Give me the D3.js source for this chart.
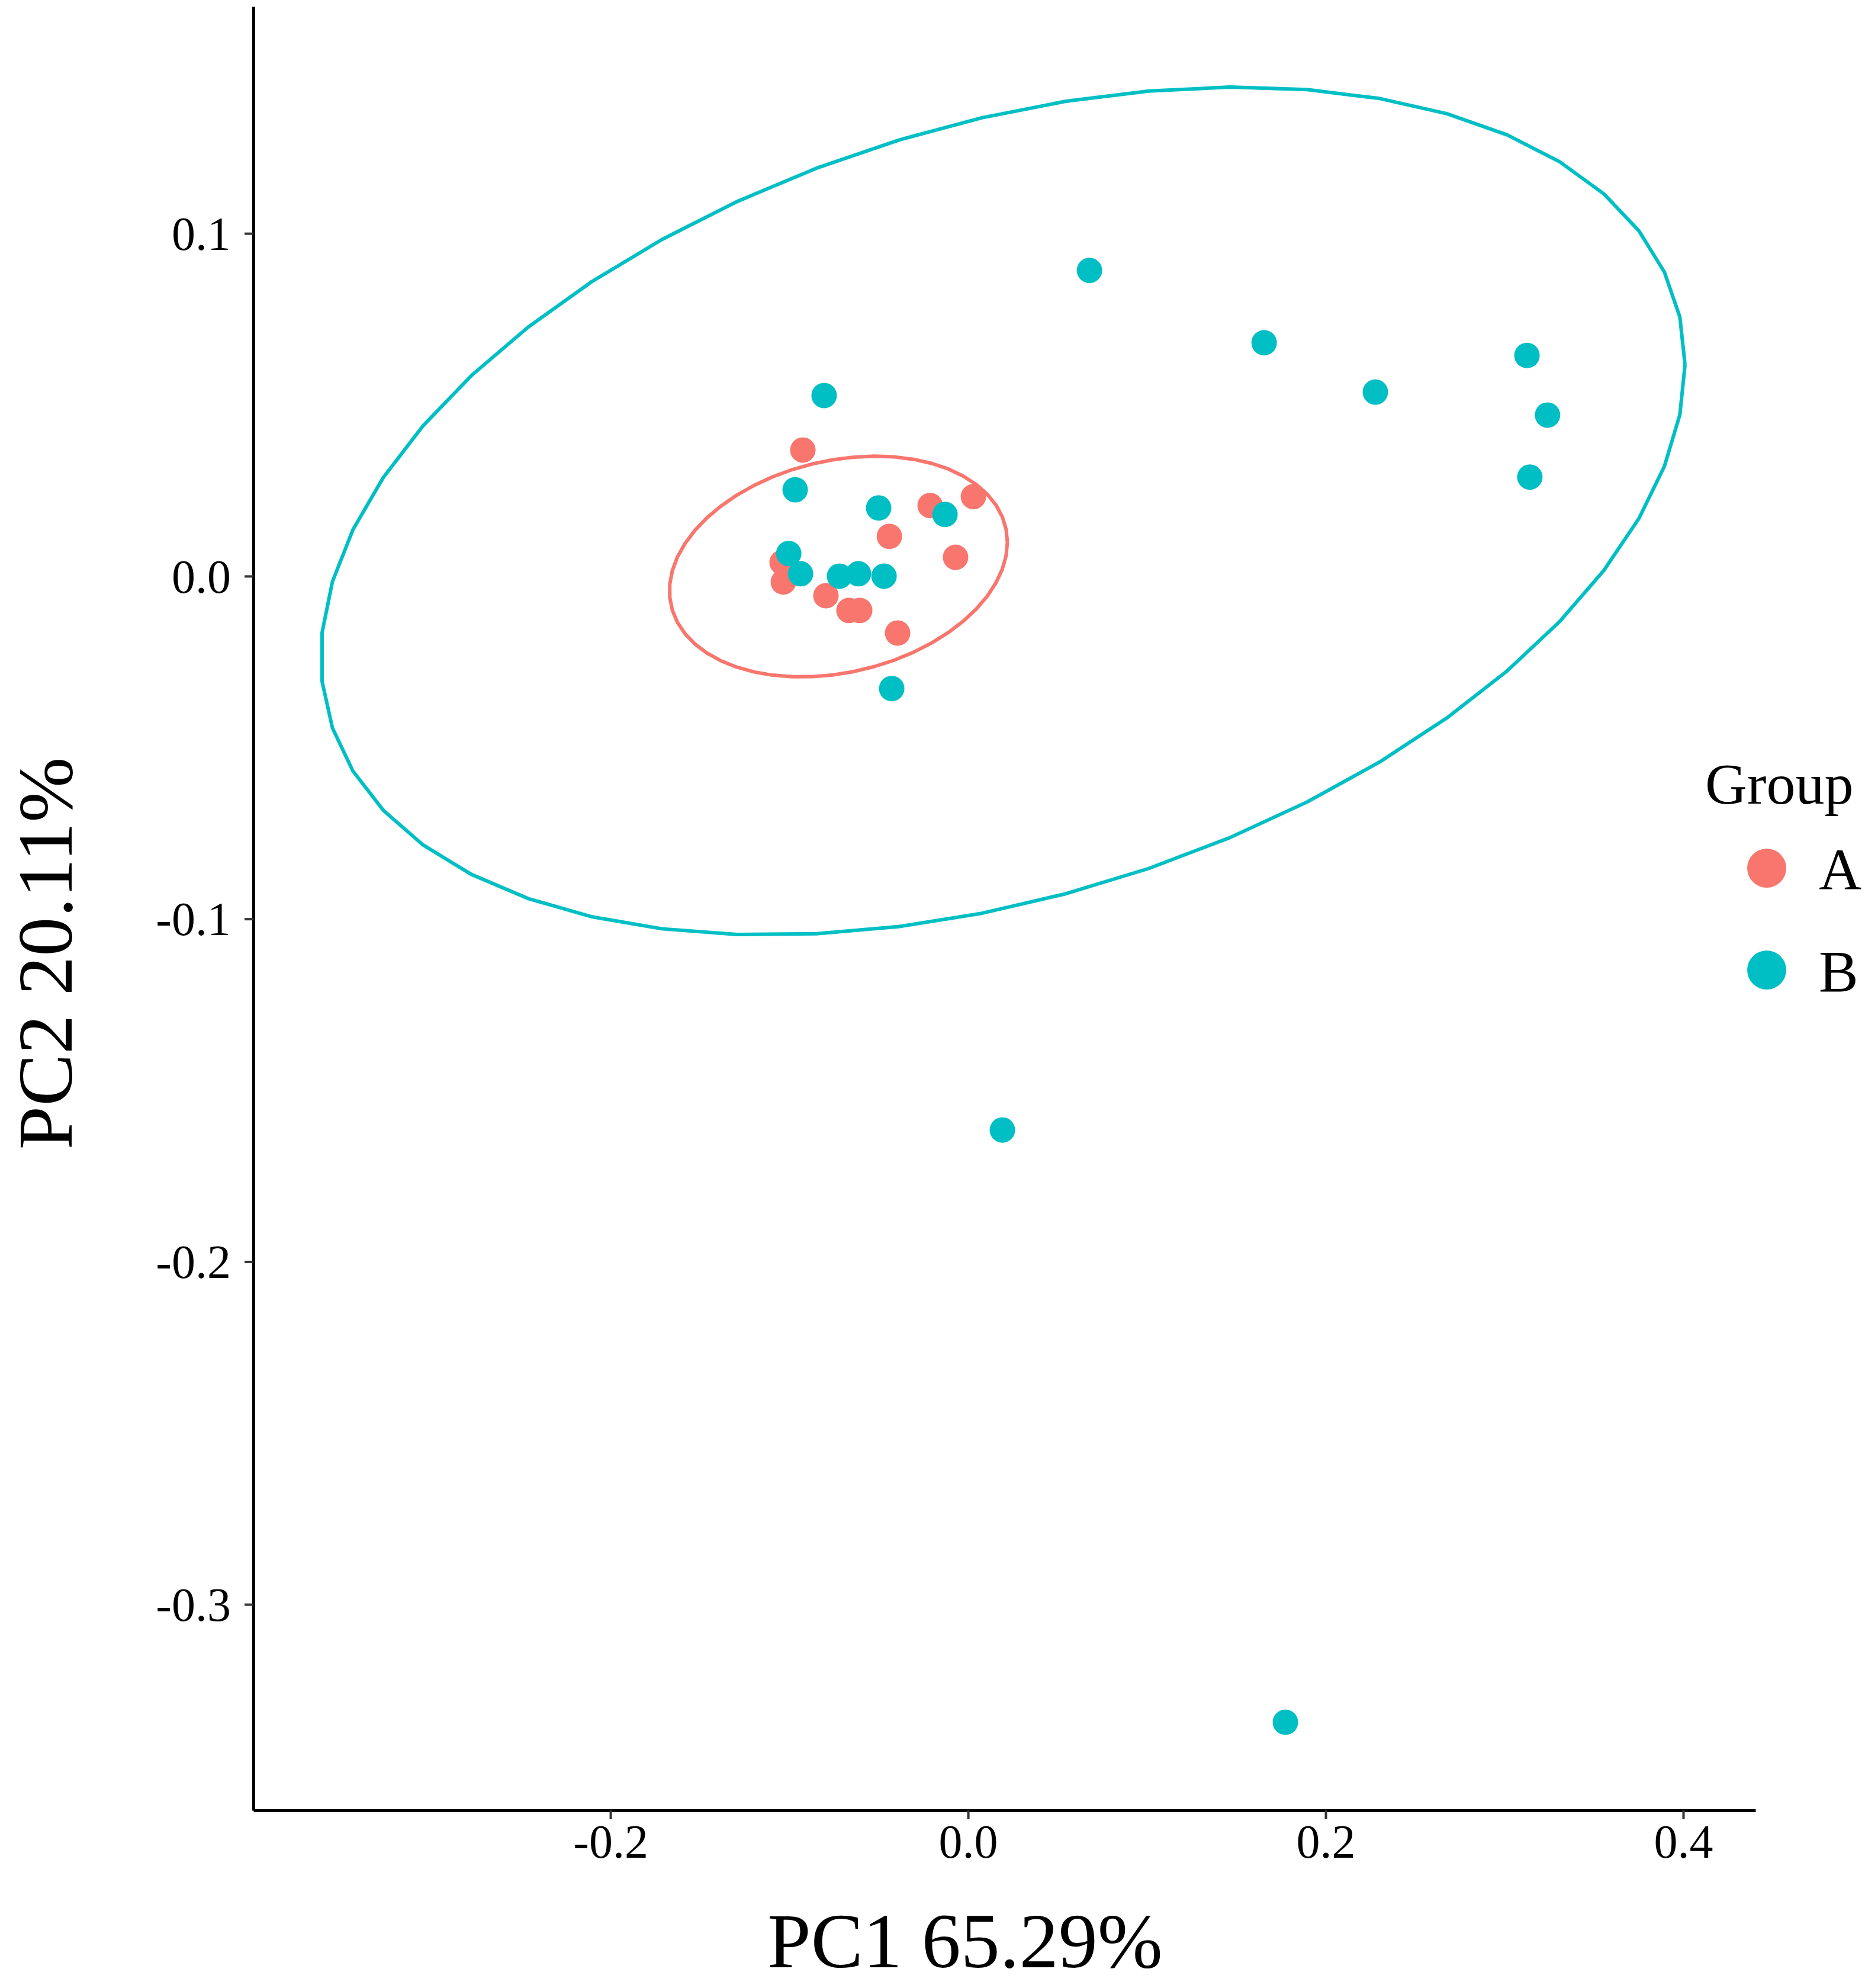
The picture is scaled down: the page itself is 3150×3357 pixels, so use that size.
<!DOCTYPE html>
<html>
<head>
<meta charset="utf-8">
<script src="https://cdn.jsdelivr.net/npm/d3@7"></script>
<style>
  body { margin: 0; background: #fff; }
  text { font-family: "Liberation Serif", "Times New Roman", serif; fill: #000; }
</style>
</head>
<body>
<svg id="chart"></svg>
<script>
const width = 3150;
const height = 3357;

// groups and colours
const groups = ['A', 'B'];
const groupColors = ['#F8766D', '#00BFC4'];

// PC scores
const aPC1 = [-0.0924, -0.0212, 0.0030, -0.0440, -0.0070, -0.1040, -0.1033, -0.0795, -0.0666, -0.0606, -0.0394];
const aPC2 = [0.0368, 0.0206, 0.0232, 0.0116, 0.0055, 0.0040, -0.0017, -0.0057, -0.0100, -0.0100, -0.0166];
const bPC1 = [0.0679, 0.1656, 0.2278, 0.3126, 0.3241, 0.3142, -0.0805, -0.0967, -0.0500, -0.0129,
              -0.1003, -0.0937, -0.0719, -0.0613, -0.0470, -0.0427, 0.0192, 0.1775];
const bPC2 = [0.0892, 0.0681, 0.0537, 0.0644, 0.0470, 0.0289, 0.0527, 0.0252, 0.0199, 0.0180,
              0.0066, 0.0007, 0.0000, 0.0007, 0.0000, -0.0328, -0.1616, -0.3344];

// confidence ellipses (A, B): centre, half extent on each axis, correlation
const ellCenterX = [-0.0725, 0.0195];
const ellCenterY = [0.0028, 0.019];
const ellHalfX = [0.0945, 0.3815];
const ellHalfY = [0.0322, 0.1237];
const ellCorr = [0.22, 0.345];
const ellSegments = 51;

// axes
const xDomain = [-0.3997, 0.4404];
const yDomain = [-0.3601, 0.1662];
const xTicks = [-0.2, 0.0, 0.2, 0.4];
const yTicks = [-0.3, -0.2, -0.1, 0.0, 0.1];
const xTitle = 'PC1 65.29%';
const yTitle = 'PC2 20.11%';
const legendTitle = 'Group';

const svg = d3.select('#chart')
  .attr('width', width)
  .attr('height', height);

const x = d3.scaleLinear().domain(xDomain).range([428, 2965]);
const y = d3.scaleLinear().domain(yDomain).range([3057, 11]);

const fmt = function(d) { return d.toFixed(1); };

// points
const points = [];
aPC1.forEach(function(v, i) { points.push({ g: 0, x: v, y: aPC2[i] }); });
bPC1.forEach(function(v, i) { points.push({ g: 1, x: v, y: bPC2[i] }); });

svg.append('g')
  .selectAll('circle')
  .data(points)
  .enter()
  .append('circle')
  .attr('cx', function(d) { return x(d.x); })
  .attr('cy', function(d) { return y(d.y); })
  .attr('r', 21.5)
  .attr('fill', function(d) { return groupColors[d.g]; });

// ellipses
const line = d3.line()
  .x(function(d) { return x(d[0]); })
  .y(function(d) { return y(d[1]); });

groups.forEach(function(g, k) {
  const r = ellCorr[k];
  const pts = d3.range(ellSegments + 1).map(function(i) {
    const t = 2 * Math.PI * i / ellSegments;
    return [
      ellCenterX[k] + ellHalfX[k] * Math.cos(t),
      ellCenterY[k] + ellHalfY[k] * (r * Math.cos(t) + Math.sqrt(1 - r * r) * Math.sin(t))
    ];
  });
  svg.append('path')
    .attr('d', line(pts))
    .attr('fill', 'none')
    .attr('stroke', groupColors[k])
    .attr('stroke-width', 6)
    .attr('stroke-linejoin', 'round');
});

// x axis
const xAxis = svg.append('g')
  .attr('transform', 'translate(0,3057)')
  .call(d3.axisBottom(x).tickValues(xTicks).tickFormat(fmt).tickSize(15).tickSizeOuter(0));
xAxis.select('.domain').attr('stroke', '#000').attr('stroke-width', 5);
xAxis.selectAll('.tick line').attr('stroke', '#333').attr('stroke-width', 4);
xAxis.selectAll('.tick text')
  .attr('y', 80)
  .attr('dy', 0)
  .style('font-size', '80px')
  .style('font-family', '"Liberation Serif", "Times New Roman", serif')
  .attr('fill', '#000');

// y axis
const yAxis = svg.append('g')
  .attr('transform', 'translate(428,0)')
  .call(d3.axisLeft(y).tickValues(yTicks).tickFormat(fmt).tickSize(15).tickSizeOuter(0));
yAxis.select('.domain').attr('stroke', '#000').attr('stroke-width', 5);
yAxis.selectAll('.tick line').attr('stroke', '#333').attr('stroke-width', 4);
yAxis.selectAll('.tick text')
  .attr('x', -38)
  .attr('dy', '0.34em')
  .style('font-size', '80px')
  .style('font-family', '"Liberation Serif", "Times New Roman", serif')
  .attr('fill', '#000');

// axis titles
svg.append('text')
  .attr('x', 1630)
  .attr('y', 3322)
  .attr('text-anchor', 'middle')
  .style('font-size', '132px')
  .text(xTitle);

svg.append('text')
  .attr('transform', 'translate(121,1610) rotate(-90)')
  .attr('text-anchor', 'middle')
  .style('font-size', '132px')
  .text(yTitle);

// legend
svg.append('text')
  .attr('x', 2880)
  .attr('y', 1357)
  .style('font-size', '98px')
  .text(legendTitle);

const legend = svg.append('g')
  .selectAll('g')
  .data(groups)
  .enter()
  .append('g')
  .attr('transform', function(d, i) { return 'translate(2984,' + (1466 + i * 172) + ')'; });

legend.append('circle')
  .attr('r', 33)
  .attr('fill', function(d, i) { return groupColors[i]; });

legend.append('text')
  .attr('x', 88)
  .attr('y', 36)
  .style('font-size', '100px')
  .text(function(d) { return d; });
</script>
</body>
</html>
